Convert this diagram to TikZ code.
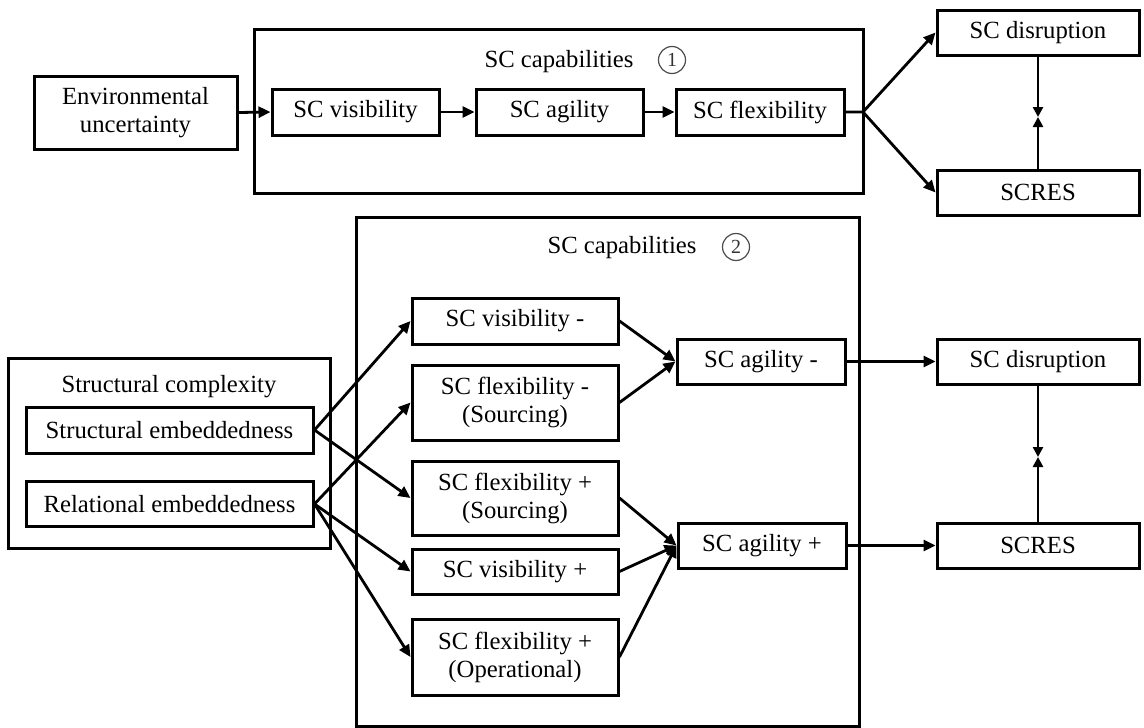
\documentclass[tikz,border=0pt]{standalone}
\usepackage{fontspec}
\setmainfont{Liberation Serif}
\usetikzlibrary{arrows.meta}
\begin{document}
\begin{tikzpicture}[x=1pt,y=-1pt,
  font=\fontsize{24.7}{28}\selectfont,
  box/.style={draw, line width=3pt, rectangle, inner sep=0pt, align=center},
  arr/.style={line width=2.8pt, -{Triangle[length=12pt,width=11pt]}},
  meet/.style={line width=2.8pt, -{Triangle[length=10pt,width=10pt]}},
  num/.style={circle, draw=black!70, text=black!80, line width=1.2pt, minimum size=27pt, inner sep=0pt, font=\fontsize{20}{20}\selectfont},
  lbl/.style={inner sep=0pt},
]
\useasboundingbox (0,0) rectangle (1144,728);

% ---------- upper model ----------
\node[box, minimum width=609, minimum height=164] (capA) at (558.5,111) {};
\node[lbl] (capAt) at (559,62) {SC capabilities};
\node[num] (numA) at (672,60) {1};

\node[box, minimum width=203, minimum height=73] (env) at (135.5,112.5) {Environmental\\uncertainty};
\node[box, minimum width=167, minimum height=46] (visA) at (355.5,112) {SC visibility};
\node[box, minimum width=167, minimum height=46] (agiA) at (559.5,112) {SC agility};
\node[box, minimum width=168, minimum height=46] (flexA) at (760,112) {SC flexibility};

\node[box, minimum width=202, minimum height=45] (disA) at (1038,32.5) {SC disruption};
\node[box, minimum width=202, minimum height=45] (resA) at (1038,192.5) {SCRES};

\coordinate (brA) at (863,112);
\coordinate (midA) at (1038,117);

\draw[arr] (env.east) -- (visA.west);
\draw[arr] (visA.east) -- (agiA.west);
\draw[arr] (agiA.east) -- (flexA.west);
\draw[arr] (flexA.east) -- (brA) -- (disA.west);
\draw[arr] (brA) -- (resA.west);
\draw[meet] (disA.south) -- (midA);
\draw[meet] (resA.north) -- (midA);

% ---------- lower model ----------
\node[box, minimum width=322, minimum height=190] (cpx) at (169,453) {};
\node[lbl] (cpxt) at (169,387) {Structural complexity};
\node[box, minimum width=287, minimum height=46] (strE) at (169.5,430) {Structural embeddedness};
\node[box, minimum width=287, minimum height=45] (relE) at (169.5,504) {Relational embeddedness};

\node[box, minimum width=503, minimum height=509] (capB) at (607.5,471.5) {};
\node[lbl] (capBt) at (622,248) {SC capabilities};
\node[num] (numB) at (736,247) {2};

\node[box, minimum width=206, minimum height=46] (visM) at (515,321) {SC visibility -};
\node[box, minimum width=206, minimum height=75] (flexM) at (515,402.5) {SC flexibility -\\(Sourcing)};
\node[box, minimum width=206, minimum height=74] (flexPS) at (515,498) {SC flexibility +\\(Sourcing)};
\node[box, minimum width=206, minimum height=45] (visP) at (515,571.5) {SC visibility +};
\node[box, minimum width=206, minimum height=76] (flexPO) at (515,657) {SC flexibility +\\(Operational)};

\node[box, minimum width=168, minimum height=45] (agiM) at (761,361.5) {SC agility -};
\node[box, minimum width=168, minimum height=45] (agiP) at (762,545.5) {SC agility +};

\node[box, minimum width=202, minimum height=45] (disB) at (1038,361.5) {SC disruption};
\node[box, minimum width=202, minimum height=45] (resB) at (1038,545.5) {SCRES};
\coordinate (midB) at (1038,457);

\draw[arr] (strE.east) -- (visM.west);
\draw[arr] (strE.east) -- (flexPS.west);
\draw[arr] (relE.east) -- (flexM.west);
\draw[arr] (relE.east) -- (visP.west);
\draw[arr] (relE.east) -- (flexPO.west);

\draw[arr] (visM.east) -- (agiM.west);
\draw[arr] (flexM.east) -- (agiM.west);
\draw[arr] (flexPS.east) -- (agiP.west);
\draw[arr] (visP.east) -- (agiP.west);
\draw[arr] (flexPO.east) -- (agiP.west);

\draw[arr] (agiM.east) -- (disB.west);
\draw[arr] (agiP.east) -- (resB.west);
\draw[meet] (disB.south) -- (midB);
\draw[meet] (resB.north) -- (midB);
\end{tikzpicture}
\end{document}
